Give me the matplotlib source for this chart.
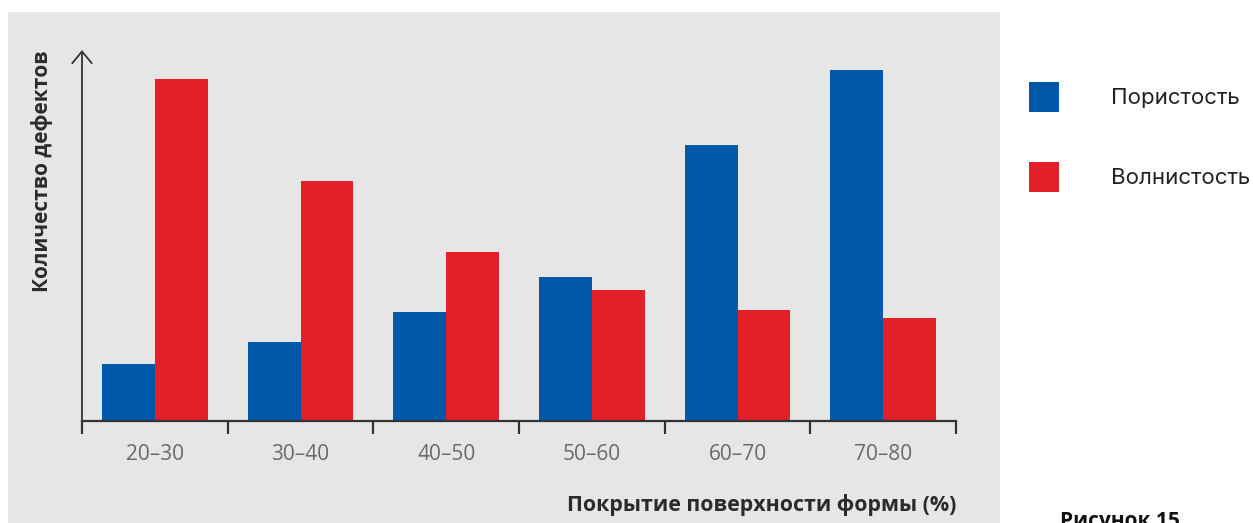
import numpy as np
import matplotlib.pyplot as plt
from matplotlib.patches import Rectangle

# coverage ranges and defect counts (relative units)
categories = ["20–30", "30–40", "40–50", "50–60", "60–70", "70–80"]
porosity = [57, 79, 109, 144, 276, 351]
waviness = [342, 240, 169, 131, 111, 103]

BLUE = "#0058A9"
RED = "#E31F27"
PANEL = "#E6E6E6"
AXIS = "#333333"

W, H = 1253, 523
fig = plt.figure(figsize=(W / 100, H / 100), dpi=100)
fig.patch.set_facecolor("white")

# grey panel behind the chart
fig.patches.append(Rectangle((8 / W, 0), 992 / W, (H - 12) / H,
                             transform=fig.transFigure, facecolor=PANEL,
                             edgecolor="none", zorder=-1))

ax = fig.add_axes([82 / W, 102 / H, 874 / W, 371 / H])
ax.set_facecolor("none")

x = np.arange(len(categories))
bw = 0.363
b1 = ax.bar(x - bw / 2, porosity, bw, color=BLUE, label="Пористость", zorder=2)
b2 = ax.bar(x + bw / 2, waviness, bw, color=RED, label="Волнистость", zorder=2)

ax.set_xlim(-0.5, len(categories) - 0.5)
ax.set_ylim(0, 371)

for s in ["top", "right", "left"]:
    ax.spines[s].set_visible(False)
ax.spines["bottom"].set_color(AXIS)
ax.spines["bottom"].set_linewidth(1.6)

# boundary ticks, labels at category centres
ax.set_xticks(np.arange(-0.5, len(categories)), minor=False)
ax.set_xticklabels([])
ax.tick_params(axis="x", which="major", direction="out", length=9,
               width=1.6, color=AXIS)
ax.set_xticks(x, minor=True)
ax.set_xticklabels(categories, minor=True, fontfamily="Open Sans",
                   fontsize=15, color="#6A6A6A")
ax.tick_params(axis="x", which="minor", length=0, pad=16.5)
ax.set_yticks([])

# y axis with an open arrow head
ax.annotate("", xy=(0, 1.0), xycoords="axes fraction", xytext=(0, 0),
            arrowprops=dict(arrowstyle="->,head_length=0.85,head_width=0.7",
                            color=AXIS, lw=1.3, shrinkA=0, shrinkB=0),
            annotation_clip=False)

fig.text(42 / W, 1 - 50 / H, "Количество дефектов", rotation=90,
         ha="center", va="top", fontfamily="Open Sans", fontweight="bold",
         fontsize=15, color="#2B2B2B")
fig.text(956 / W, 1 - 505 / H, "Покрытие поверхности формы (%)",
         ha="right", va="center", fontfamily="Open Sans", fontweight="bold",
         fontsize=15.4, color="#2B2B2B")

fig.legend(handles=[b1, b2], loc="upper left",
           bbox_to_anchor=(1029 / W, 1 - 82 / H), frameon=False,
           prop=dict(family="Inter", size=16), labelcolor="#222222",
           handlelength=1.36, handleheight=1.7, handletextpad=2.35,
           labelspacing=2.25, borderpad=0, borderaxespad=0)

fig.text(1060 / W, 1 - 511 / H, "Рисунок 15", ha="left", va="top",
         fontfamily="Open Sans", fontweight="bold", fontsize=15,
         color="#111111")

fig.savefig("out.png", dpi=100)
